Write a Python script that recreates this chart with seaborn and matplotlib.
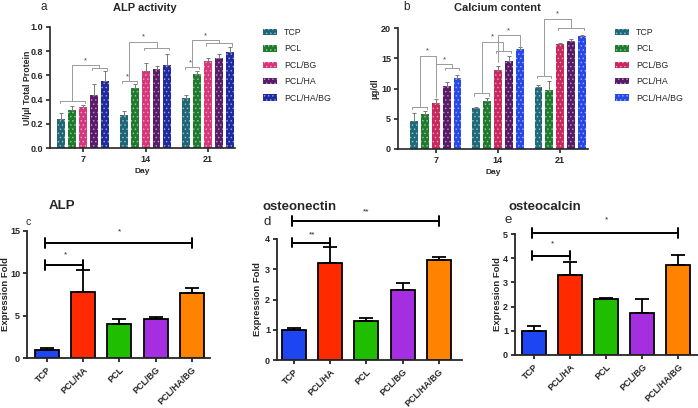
import numpy as np
import pandas as pd
import seaborn as sns
import matplotlib.pyplot as plt
from matplotlib.patches import Patch

# ---------------- data ----------------
days = ['7', '14', '21']
groups = ['TCP', 'PCL', 'PCL/BG', 'PCL/HA', 'PCL/HA/BG']

# ALP activity (rows = day, cols = group)
alp_act_mean = [[0.24, 0.31, 0.335, 0.44, 0.555],
                [0.27, 0.50, 0.64, 0.65, 0.69],
                [0.41, 0.61, 0.72, 0.74, 0.795]]
alp_act_err = [[0.05, 0.035, 0.02, 0.09, 0.08],
               [0.035, 0.03, 0.06, 0.03, 0.09],
               [0.03, 0.03, 0.025, 0.035, 0.04]]

# Calcium content
ca_mean = [[4.6, 5.8, 7.6, 10.4, 11.8],
           [6.8, 8.0, 13.0, 14.5, 16.5],
           [10.3, 9.8, 17.3, 17.8, 18.7]]
ca_err = [[1.4, 0.5, 0.7, 0.6, 0.4],
          [0.2, 0.5, 0.8, 0.8, 0.3],
          [0.3, 1.4, 0.3, 0.4, 0.2]]

# gene expression
genes = ['TCP', 'PCL/HA', 'PCL', 'PCL/BG', 'PCL/HA/BG']
alp_fold = [0.95, 7.8, 4.05, 4.6, 7.65]
alp_fold_err = [0.2, 2.6, 0.55, 0.3, 0.6]
osn_fold = [0.98, 3.2, 1.3, 2.3, 3.3]
osn_fold_err = [0.08, 0.55, 0.1, 0.25, 0.1]
osc_fold = [1.0, 3.32, 2.3, 1.72, 3.72]
osc_fold_err = [0.2, 0.52, 0.05, 0.58, 0.42]

# nested significance brackets: (day, groupsA, yA, starA, groupsB, yB, ytop)
alp_act_sig = [(0, [0, 2], 0.39, False, [3, 4], 0.66, 0.685),
               (1, [0, 1], 0.555, True, [2, 4], 0.83, 0.878),
               (2, [0, 1], 0.67, True, [2, 4], 0.865, 0.89)]
ca_sig = [(0, [0, 1], 7.0, False, [2, 2], 14.0, 15.4),
          (0, [2, 2], 8.6, False, [3, 4], 13.4, 14.0),
          (1, [0, 1], 9.2, False, [2, 3], 16.2, 17.7),
          (1, [2, 2], 14.4, False, [4, 4], 16.9, 18.8),
          (2, [0, 1], 12.1, False, [2, 4], 20.0, 21.5)]

# simple brackets for expression panels: (i, j, y, label, label_y)
alp_fold_sig = [(0, 1, 11.0, '*', 12.2), (0, 4, 13.55, '*', 14.9)]
osn_fold_sig = [(0, 1, 3.88, '**', 4.13), (0, 4, 4.6, '**', 4.9)]
osc_fold_sig = [(0, 1, 4.11, '*', 4.6), (0, 4, 5.03, '*', 5.6)]

pal_a = ['#1f6677', '#1e7a2c', '#d6367a', '#5a1a6a', '#1f2a9e']
pal_b = ['#1f6a7a', '#1e7a2c', '#c8285e', '#581a68', '#2548e6']
pal_gene = ['#1d45f2', '#ff2a00', '#1fbf00', '#a52fe0', '#ff8200']

# ---------------- style ----------------
sns.set_style('ticks')
plt.rcParams['font.family'] = ['Liberation Sans', 'DejaVu Sans']
plt.rcParams['hatch.linewidth'] = 0.6

W, H = 698, 408
fig = plt.figure(figsize=(W / 100, H / 100), dpi=100)


def px_axes(l, r, t, b):
    return fig.add_axes([l / W, 1 - b / H, (r - l) / W, (b - t) / H])


def ftext(x, y, s, **kw):
    fig.text(x / W, 1 - y / H, s, **kw)


def style_axes(ax, lw):
    sns.despine(ax=ax)
    for sp in ['left', 'bottom']:
        ax.spines[sp].set_linewidth(lw)
    ax.tick_params(width=lw, length=3, labelsize=6.5, pad=2)
    for t in ax.get_xticklabels() + ax.get_yticklabels():
        t.set_fontweight('bold')


def grouped_panel(ax, mean, err, pal, ylim, yticks, ylabel, sig):
    df = pd.DataFrame([(days[d], groups[g], mean[d][g])
                       for d in range(3) for g in range(5)],
                      columns=['Day', 'Group', 'val'])
    sns.barplot(data=df, x='Day', y='val', hue='Group', order=days,
                hue_order=groups, palette=pal, width=0.87, gap=0.27,
                saturation=1, errorbar=None, ax=ax, legend=False)
    bar_conts = list(ax.containers)
    centers = []
    for g, cont in enumerate(bar_conts):
        xs = []
        for d, bar in enumerate(cont):
            bar.set_hatch('....')
            bar.set_edgecolor((1, 1, 1, 0.45))
            bar.set_linewidth(0)
            xs.append(bar.get_x() + bar.get_width() / 2)
        ax.errorbar(xs, [mean[d][g] for d in range(3)],
                    yerr=[np.zeros(3), [err[d][g] for d in range(3)]],
                    fmt='none', ecolor='#777777', elinewidth=0.7, capsize=1.6,
                    capthick=0.7, zorder=1)
        centers.append(xs)
    ax.set_ylim(*ylim)
    ax.set_yticks(yticks)
    ax.set_xlabel('Day', fontsize=6, fontweight='bold')
    ax.xaxis.set_label_coords(0.5, -0.165)
    ax.set_ylabel(ylabel, fontsize=6.3, fontweight='bold')
    style_axes(ax, 1.2)

    rng = ylim[1] - ylim[0]
    tick = 0.018 * rng
    kw = dict(color='#9a9a9a', lw=0.7, clip_on=False)
    for d, ga, ya, stara, gb, yb, ytop in sig:
        xa = [centers[ga[0]][d], centers[ga[1]][d]]
        xb = [centers[gb[0]][d], centers[gb[1]][d]]
        for xx, yy in ((xa, ya), (xb, yb)):
            if xx[0] != xx[1]:
                ax.plot([xx[0] - 0.03, xx[0] - 0.03, xx[1] + 0.03, xx[1] + 0.03],
                        [yy - tick, yy, yy, yy - tick], **kw)
        ma, mb = np.mean(xa), np.mean(xb)
        ax.plot([ma, ma, mb, mb], [ya, ytop, ytop, yb], **kw)
        ax.text((ma + mb) / 2, ytop + 0.01 * rng, '*', ha='center', va='bottom',
                fontsize=5.5, color='#444444', clip_on=False)
        if stara:
            ax.text(ma - 0.03, ya + 0.005 * rng, '*', ha='center', va='bottom',
                    fontsize=5.5, color='#444444', clip_on=False)


def legend_at(x, y, pal):
    handles = [Patch(facecolor=c, edgecolor=(1, 1, 1, 0.45), hatch='....', lw=0)
               for c in pal]
    fig.legend(handles, groups, loc='upper left', bbox_to_anchor=(x / W, 1 - y / H),
               frameon=False, fontsize=6.3, handlelength=1.6, handleheight=0.75,
               labelspacing=0.85, handletextpad=0.8, borderaxespad=0, borderpad=0)


def gene_panel(ax, vals, errs, ylim, yticks, xlim, sig):
    sns.barplot(x=genes, y=vals, hue=genes, palette=pal_gene, order=genes,
                edgecolor='black', linewidth=1.3, width=0.66, saturation=1,
                errorbar=None, ax=ax, legend=False)
    xs = sorted(bar.get_x() + bar.get_width() / 2 for bar in ax.patches)
    ax.errorbar(xs, vals, yerr=[np.zeros(len(vals)), errs], fmt='none',
                ecolor='black', elinewidth=1.3, capsize=5, capthick=1.3, zorder=1)
    ax.set_xlim(*xlim)
    ax.set_ylim(*ylim)
    ax.set_yticks(yticks)
    ax.set_ylabel('Expression Fold', fontsize=6.8, fontweight='bold')
    style_axes(ax, 1.3)
    plt.setp(ax.get_xticklabels(), rotation=45, ha='right', rotation_mode='anchor')
    cap = 0.04 * (ylim[1] - ylim[0])
    for i, j, y, lab, ly in sig:
        ax.plot([xs[i] - 0.05, xs[j]], [y, y], color='black', lw=1.4, clip_on=False)
        for xx in (xs[i] - 0.05, xs[j]):
            ax.plot([xx, xx], [y - cap, y + cap], color='black', lw=1.4, clip_on=False)
        ax.text((xs[i] + xs[j]) / 2, ly, lab, ha='center', va='center',
                fontsize=6, clip_on=False)


# ---------------- panel a ----------------
ax_a = px_axes(50, 235, 27, 148)
grouped_panel(ax_a, alp_act_mean, alp_act_err, pal_a, (0, 1.0),
              [0, 0.2, 0.4, 0.6, 0.8, 1.0], 'Ul/µl Total Protein', alp_act_sig)
ax_a.set_xlim(-0.53, 2.43)
ax_a.yaxis.set_label_coords(-0.1, 0.5)
ftext(145, 8, 'ALP activity', ha='center', va='center', fontsize=8, fontweight='bold')
ftext(44, 7, 'a', ha='center', va='center', fontsize=8.5)
legend_at(263, 28, pal_a)

# ---------------- panel b ----------------
ax_b = px_axes(398, 588, 28, 149)
grouped_panel(ax_b, ca_mean, ca_err, pal_b, (0, 20), [0, 5, 10, 15, 20],
              'µg/dl', ca_sig)
ax_b.set_xlim(-0.61, 2.45)
ax_b.yaxis.set_label_coords(-0.1, 0.5)
ftext(497, 8, 'Calcium content', ha='center', va='center', fontsize=8, fontweight='bold')
ftext(407, 7, 'b', ha='center', va='center', fontsize=8.5)
legend_at(615, 28, pal_b)

# ---------------- panel c ----------------
ax_c = px_axes(27, 210, 231, 358)
gene_panel(ax_c, alp_fold, alp_fold_err, (0, 15), [0, 5, 10, 15], (-0.55, 4.5),
           alp_fold_sig)
ax_c.yaxis.set_label_coords(-0.095, 0.5)
ftext(62, 206, 'ALP', ha='center', va='center', fontsize=9.5, fontweight='bold')
ftext(28, 222, 'c', ha='center', va='center', fontsize=7.5)

# ---------------- panel d ----------------
ax_d = px_axes(277, 462, 239, 360)
gene_panel(ax_d, osn_fold, osn_fold_err, (0, 4), [0, 1, 2, 3, 4], (-0.47, 4.64),
           osn_fold_sig)
ax_d.yaxis.set_label_coords(-0.08, 0.5)
ftext(300, 207, 'osteonectin', ha='center', va='center', fontsize=9.5, fontweight='bold')
ftext(267, 222, 'd', ha='center', va='center', fontsize=9.5)

# ---------------- panel e ----------------
ax_e = px_axes(515, 698, 234, 355)
gene_panel(ax_e, osc_fold, osc_fold_err, (0, 5), [0, 1, 2, 3, 4, 5], (-0.53, 4.55),
           osc_fold_sig)
ax_e.yaxis.set_label_coords(-0.07, 0.5)
ftext(545, 207, 'osteocalcin', ha='center', va='center', fontsize=9.5, fontweight='bold')
ftext(508, 220, 'e', ha='center', va='center', fontsize=9.5)

fig.savefig('out.png', dpi=100)
